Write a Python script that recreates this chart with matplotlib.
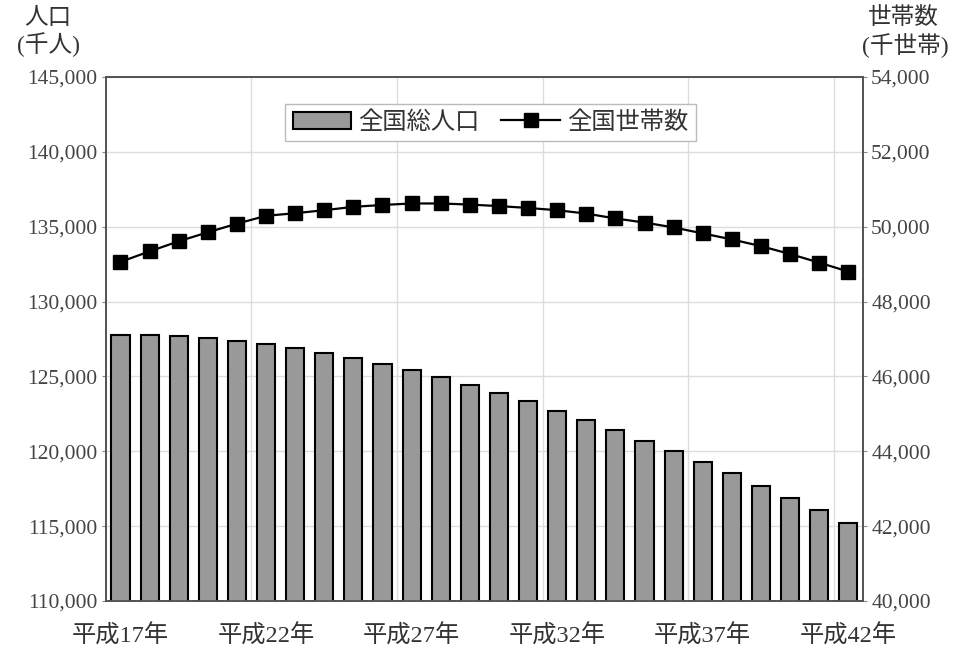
import numpy as np
import matplotlib.pyplot as plt

plt.rcParams['font.family'] = ['Liberation Serif', 'Noto Sans CJK JP']

# 平成17年 ~ 平成42年
years = [f"平成{y}年" for y in range(17, 43)]
label_every = 5

# 全国総人口 (千人)
population = [127770, 127760, 127700, 127570, 127390, 127170, 126900, 126590,
              126240, 125860, 125430, 124950, 124440, 123910, 123330, 122720,
              122060, 121390, 120710, 119990, 119270, 118530, 117690, 116880,
              116050, 115200]

# 全国世帯数 (千世帯)
households = [49060, 49340, 49610, 49850, 50080, 50290, 50360, 50440,
              50530, 50580, 50620, 50620, 50590, 50550, 50500, 50440,
              50350, 50220, 50110, 49980, 49820, 49660, 49480, 49270,
              49040, 48800]

x = np.arange(len(years))

fig = plt.figure(figsize=(9.63, 6.51), dpi=100)
ax = fig.add_axes([0.110, 0.0768, 0.786, 0.805])
ax2 = ax.twinx()

bars = ax.bar(x, population, width=0.62, color='#999999', edgecolor='black',
              linewidth=1.5, label='全国総人口', zorder=3)
line, = ax2.plot(x, households, color='black', linewidth=1.6, marker='s',
                 markersize=10, label='全国世帯数', zorder=4)

ax.set_xlim(-0.5, len(years) - 0.5)
ax.set_ylim(110000, 145000)
ax.set_yticks(np.arange(110000, 145001, 5000))
ax.set_yticklabels([f"{v:,}" for v in range(110000, 145001, 5000)])
ax2.set_ylim(40000, 54000)
ax2.set_yticks(np.arange(40000, 54001, 2000))
ax2.set_yticklabels([f"{v:,}" for v in range(40000, 54001, 2000)])

ax.set_xticks(x[::label_every])
ax.set_xticklabels(years[::label_every], fontsize=17.5, color='#333333')
ax.tick_params(axis='x', length=0, pad=17)
ax.tick_params(axis='y', labelsize=15.5, labelcolor='#444444', length=3,
               color='#888888', pad=3)
ax2.tick_params(axis='y', labelsize=15.5, labelcolor='#444444', length=3,
                color='#888888', pad=3)

# gridlines
ax.grid(axis='y', color='#dddddd', linewidth=1, zorder=0)
for gx in np.arange(label_every - 0.5, len(years) - 0.5, label_every):
    ax.axvline(gx, color='#dddddd', linewidth=1, zorder=0)

for a in (ax, ax2):
    for s in a.spines.values():
        s.set_color('#555555')
        s.set_linewidth(1.3)

ax.set_zorder(1)
ax2.set_zorder(2)
ax.patch.set_visible(False)

leg = ax2.legend([bars, line], ['全国総人口', '全国世帯数'], loc='upper center',
                 bbox_to_anchor=(0.508, 0.972), ncol=2, fontsize=17.5,
                 fancybox=False, edgecolor='#bbbbbb', framealpha=1,
                 handlelength=2.4, handletextpad=0.3, columnspacing=0.9,
                 borderpad=0.3)
leg.get_frame().set_linewidth(1)
for t in leg.get_texts():
    t.set_color('#333333')

fig.text(48 / 963, 1 - 18 / 651, "人口", ha='center', va='center',
         fontsize=17, color='#333333')
fig.text(48 / 963, 1 - 45 / 651, "(千人)", ha='center', va='center',
         fontsize=17, color='#333333')
fig.text(903 / 963, 1 - 18 / 651, "世帯数", ha='center', va='center',
         fontsize=17, color='#333333')
fig.text(905 / 963, 1 - 45 / 651, "(千世帯)", ha='center', va='center',
         fontsize=17, color='#333333')

fig.savefig("out.png", dpi=100)
